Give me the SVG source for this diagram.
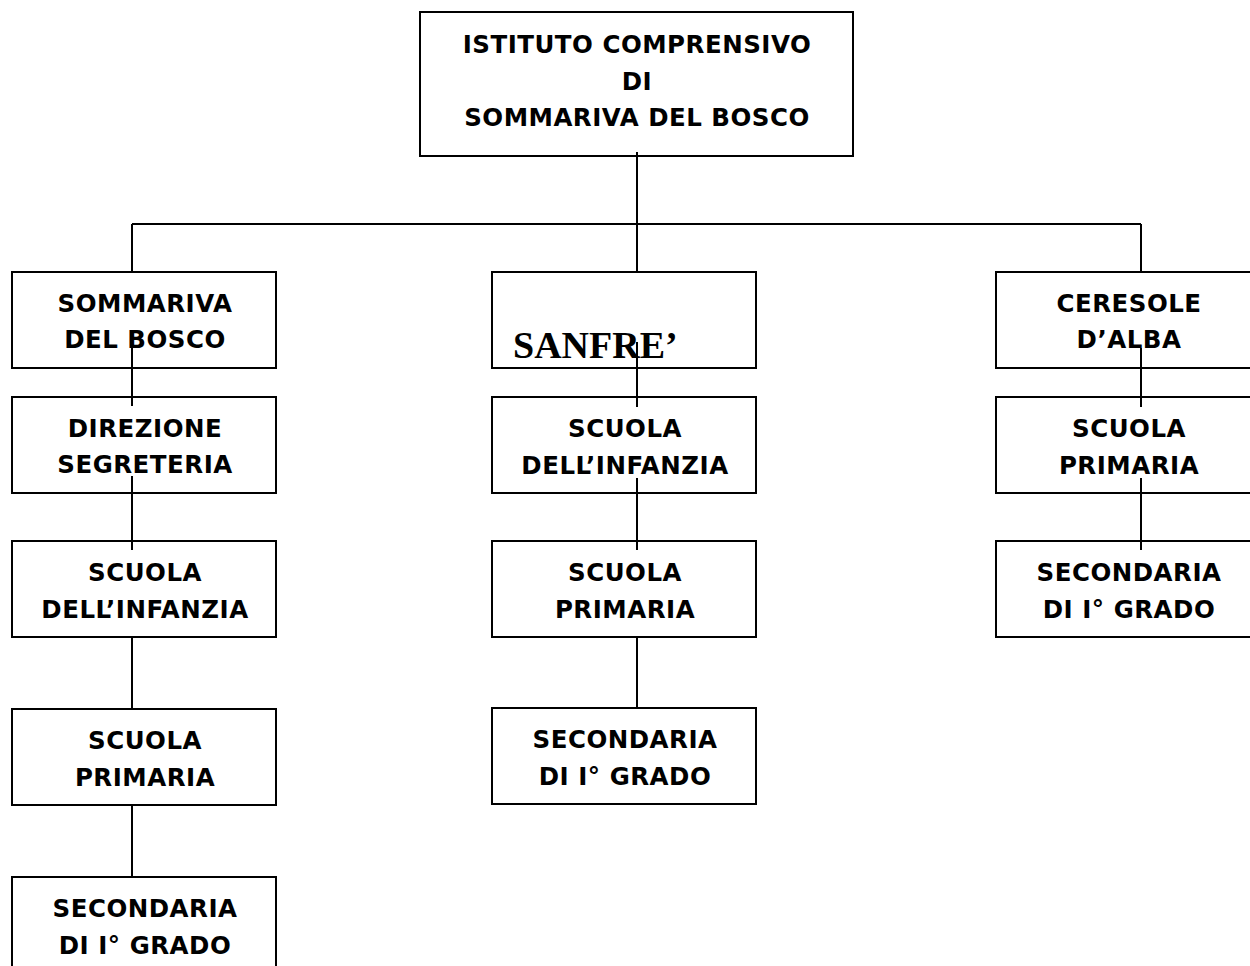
<svg xmlns="http://www.w3.org/2000/svg" width="1250" height="966" viewBox="0 0 1250 966">
<style>
.box{fill:#fff;stroke:#000;stroke-width:2}
.t{font-family:"DejaVu Sans","Liberation Sans",sans-serif;font-weight:bold;font-size:24.5px;letter-spacing:0.5px;text-anchor:middle;fill:#000}
.s{font-family:"Liberation Serif","Times New Roman",serif;font-weight:bold;font-size:38px;fill:#000}
.c{stroke:#000;stroke-width:2;fill:none}
</style>
<rect width="1250" height="966" fill="#fff"/>
<g id="root">
<rect class="box" x="420" y="12" width="433" height="144"/>
<text class="t" x="637" y="53">ISTITUTO COMPRENSIVO</text>
<text class="t" x="637" y="90">DI</text>
<text class="t" x="637" y="126">SOMMARIVA DEL BOSCO</text>
</g>
<g id="sommariva">
<rect class="box" x="12" y="272" width="264" height="96"/>
<text class="t" x="145" y="312">SOMMARIVA</text>
<text class="t" x="145" y="348">DEL BOSCO</text>
</g>
<g id="s_direzione">
<rect class="box" x="12" y="397" width="264" height="96"/>
<text class="t" x="145" y="437">DIREZIONE</text>
<text class="t" x="145" y="473">SEGRETERIA</text>
</g>
<g id="s_infanzia">
<rect class="box" x="12" y="541" width="264" height="96"/>
<text class="t" x="145" y="581">SCUOLA</text>
<text class="t" x="145" y="618">DELL’INFANZIA</text>
</g>
<g id="s_primaria">
<rect class="box" x="12" y="709" width="264" height="96"/>
<text class="t" x="145" y="749">SCUOLA</text>
<text class="t" x="145" y="786">PRIMARIA</text>
</g>
<g id="s_secondaria">
<rect class="box" x="12" y="877" width="264" height="100"/>
<text class="t" x="145" y="917">SECONDARIA</text>
<text class="t" x="145" y="954">DI I° GRADO</text>
</g>
<g id="sanfre">
<rect class="box" x="492" y="272" width="264" height="96"/>
<text class="s" x="513" y="358">SANFRE’</text>
</g>
<g id="sf_infanzia">
<rect class="box" x="492" y="397" width="264" height="96"/>
<text class="t" x="625" y="437">SCUOLA</text>
<text class="t" x="625" y="474">DELL’INFANZIA</text>
</g>
<g id="sf_primaria">
<rect class="box" x="492" y="541" width="264" height="96"/>
<text class="t" x="625" y="581">SCUOLA</text>
<text class="t" x="625" y="618">PRIMARIA</text>
</g>
<g id="sf_secondaria">
<rect class="box" x="492" y="708" width="264" height="96"/>
<text class="t" x="625" y="748">SECONDARIA</text>
<text class="t" x="625" y="785">DI I° GRADO</text>
</g>
<g id="ceresole">
<rect class="box" x="996" y="272" width="264" height="96"/>
<text class="t" x="1129" y="312">CERESOLE</text>
<text class="t" x="1129" y="348">D’ALBA</text>
</g>
<g id="c_primaria">
<rect class="box" x="996" y="397" width="264" height="96"/>
<text class="t" x="1129" y="437">SCUOLA</text>
<text class="t" x="1129" y="474">PRIMARIA</text>
</g>
<g id="c_secondaria">
<rect class="box" x="996" y="541" width="264" height="96"/>
<text class="t" x="1129" y="581">SECONDARIA</text>
<text class="t" x="1129" y="618">DI I° GRADO</text>
</g>
<g id="connectors">
<path class="c" d="M637 152V224M132 224H1141M132 224V272M637 224V272M1141 224V272"/>
<path class="c" d="M132 347V406M132 476V550M132 637V709M132 805V877"/>
<path class="c" d="M637 342V407M637 478V550M637 637V708"/>
<path class="c" d="M1141 348V407M1141 478V550"/>
</g>
</svg>
